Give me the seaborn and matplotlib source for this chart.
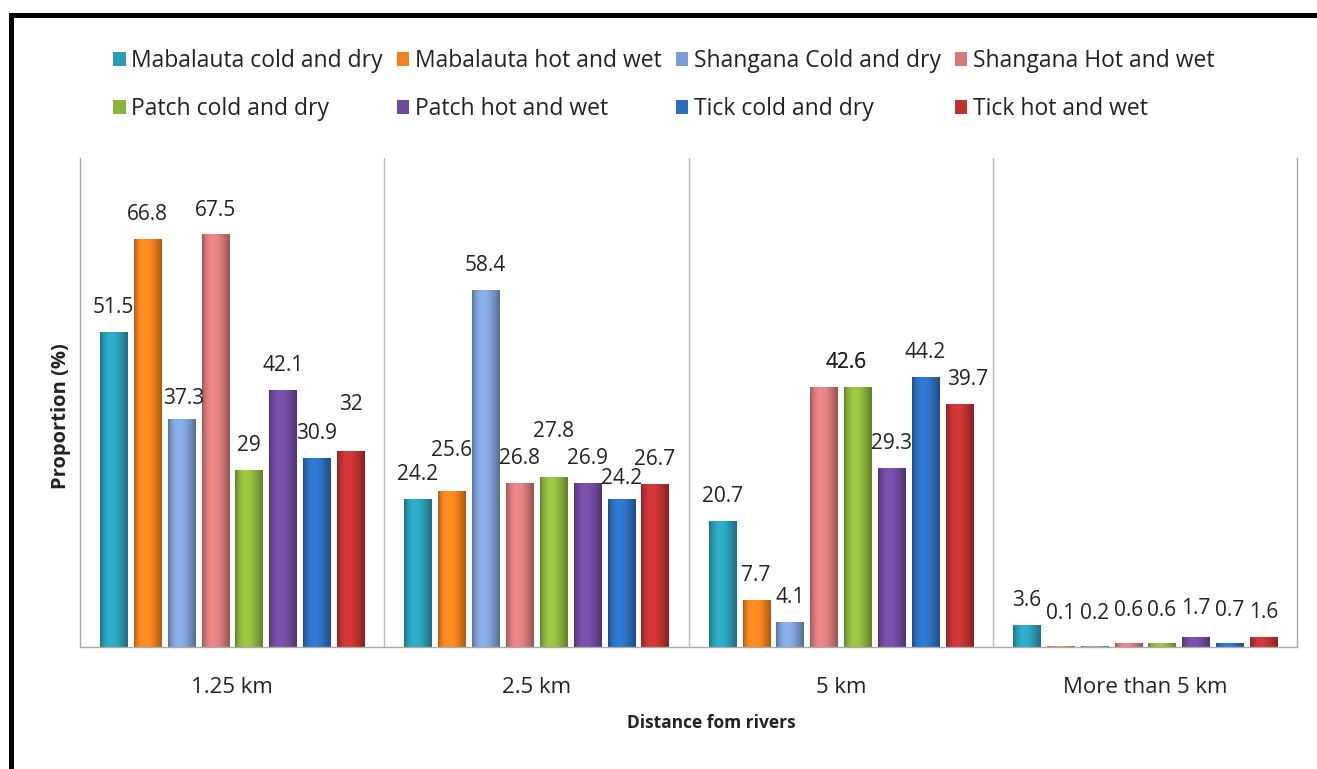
import numpy as np
import pandas as pd
import seaborn as sns
import matplotlib.pyplot as plt
import matplotlib.colors as mcolors
from matplotlib.patches import Patch, Rectangle

categories = ["1.25 km", "2.5 km", "5 km", "More than 5 km"]
series = ["Mabalauta cold and dry", "Mabalauta hot and wet",
          "Shangana Cold and dry", "Shangana Hot and wet",
          "Patch cold and dry", "Patch hot and wet",
          "Tick cold and dry", "Tick hot and wet"]
mab_cold = [51.5, 24.2, 20.7, 3.6]
mab_hot = [66.8, 25.6, 7.7, 0.1]
sha_cold = [37.3, 58.4, 4.1, 0.2]
sha_hot = [67.5, 26.8, 42.6, 0.6]
patch_cold = [29, 27.8, 42.6, 0.6]
patch_hot = [42.1, 26.9, 29.3, 1.7]
tick_cold = [30.9, 24.2, 44.2, 0.7]
tick_hot = [32, 26.7, 39.7, 1.6]
colors = ["#2A9CB4", "#F2801E", "#7C9ED4", "#D7797A",
          "#8CB43A", "#6E4A9E", "#2A6EBE", "#BF3232"]

all_vals = [mab_cold, mab_hot, sha_cold, sha_hot,
            patch_cold, patch_hot, tick_cold, tick_hot]
rows = []
for name, vals in zip(series, all_vals):
    for cat, v in zip(categories, vals):
        rows.append({"distance": cat, "group": name, "proportion": v})
df = pd.DataFrame(rows)

sns.set_theme(style="white")
plt.rcParams['font.family'] = ['Open Sans', 'DejaVu Sans']

fig = plt.figure(figsize=(13.17, 7.69), dpi=100)
ax = fig.add_axes([0.0607, 0.1586, 0.9243, 0.6359])

sns.barplot(data=df, x="distance", y="proportion", hue="group",
            order=categories, hue_order=series, palette=colors,
            width=0.89, gap=0.2, linewidth=0, legend=False, ax=ax)

# label nudges (like Excel's collision placement), in points: (series, category) -> (dx, dy)
nudges = {(2, 0): (2, -3), (7, 0): (0, 16),
          (1, 1): (0, 11.5), (4, 1): (0, 15), (6, 1): (0, -3),
          (3, 2): (16.2, 0), (4, 2): (-8.2, 0), (7, 2): (6, 0),
          (1, 3): (0, 6), (2, 3): (0, 6), (3, 3): (0, 6),
          (4, 3): (0, 6), (5, 3): (0, 3), (6, 3): (0, 6)}

# cylinder-like shading on each bar
t = np.linspace(0, 1, 64)
shade = 0.70 + 0.42 * np.sin(np.pi * t ** 0.75)
for si, (cont, col) in enumerate(zip(ax.containers, colors)):
    rgb = np.array(mcolors.to_rgb(col))
    img = np.clip(shade[:, None] * rgb[None, :], 0, 1)[None, :, :]
    for bar in cont:
        x0, w, h = bar.get_x(), bar.get_width(), bar.get_height()
        if h <= 0:
            continue
        im = ax.imshow(img, extent=(x0, x0 + w, 0, h), aspect="auto",
                       interpolation="bilinear", zorder=2)
        im.set_clip_path(bar)
    labels = ["{:g}".format(v) for v in cont.datavalues]
    texts = ax.bar_label(cont, labels=labels, padding=10, fontsize=15,
                         color="#222222")
    for ci, txt in enumerate(texts):
        if (si, ci) in nudges:
            dx, dy = nudges[(si, ci)]
            ox, oy = txt.xyann
            txt.xyann = (ox + dx, oy + dy)

ax.set_xlim(-0.5, 3.5)
ax.set_ylim(0, 80)
for xb in [0.5, 1.5, 2.5]:
    ax.axvline(xb, color="#BBBBBB", lw=1, zorder=0)

ax.set_yticks([])
ax.tick_params(axis="x", length=0, pad=21.5, labelsize=16, colors="#222222")
ax.set_xlabel("Distance fom rivers", fontsize=12.5, fontweight="bold",
              color="#222222")
ax.set_ylabel("Proportion (%)", fontsize=14.5, fontweight="bold",
              color="#222222")
ax.xaxis.set_label_coords(0.519, -0.137)
ax.yaxis.set_label_coords(-0.007, 0.472)
for side in ["left", "right", "bottom"]:
    ax.spines[side].set_color("#AAAAAA")
    ax.spines[side].set_linewidth(1)
ax.spines["top"].set_visible(False)

handles = [Patch(facecolor=c, edgecolor="none") for c in colors]
order = [0, 4, 1, 5, 2, 6, 3, 7]
fig.legend([handles[i] for i in order], [series[i] for i in order],
           ncol=4, loc="upper left", bbox_to_anchor=(0.0858, 0.936),
           frameon=False, fontsize=16.5, handlelength=0.55, handleheight=0.55,
           handletextpad=0.25, columnspacing=0.6, labelspacing=1.03,
           borderpad=0, borderaxespad=0, labelcolor="#222222")

fig.add_artist(Rectangle((0.0084, -0.05), 1.1, 1.0305, transform=fig.transFigure,
                         fill=False, edgecolor="black", linewidth=3.6,
                         clip_on=False))

fig.savefig("out.png", dpi=100)
